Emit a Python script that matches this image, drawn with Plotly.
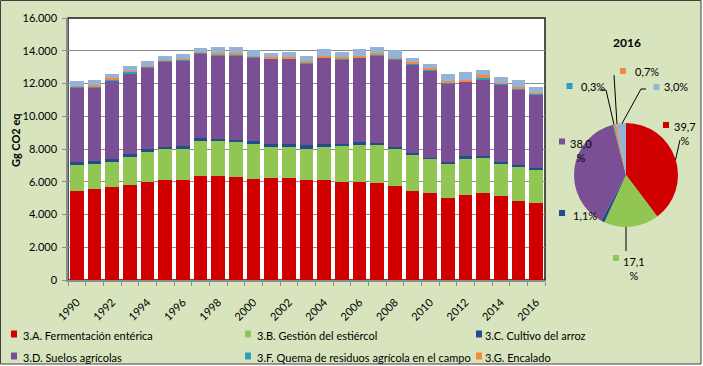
import plotly.graph_objects as go

# ---------------- data ----------------
years = [str(y) for y in range(1990, 2017)]
year_tick_text = [y if int(y) % 2 == 0 else "" for y in years]

names = [
    "3.A. Fermentación entérica",
    "3.B. Gestión del estiércol",
    "3.C. Cultivo del arroz",
    "3.D. Suelos agrícolas",
    "3.F. Quema de residuos agrícola en el campo",
    "3.G. Encalado",
    "3.H. Aplicación de urea",
]
colors = ["#D00000", "#92C653", "#1F4E8F", "#7A4F95", "#2AA0BC", "#F58A3C", "#95B3D7"]

fermentacion = [5460, 5570, 5650, 5830, 6010, 6120, 6120, 6380, 6380, 6320, 6190, 6200, 6200, 6120,
                6120, 6010, 6010, 5950, 5770, 5460, 5300, 5030, 5210, 5300, 5100, 4830, 4690]
estiercol = [1570, 1525, 1585, 1710, 1800, 1870, 1870, 2080, 2080, 2140, 2170, 1910, 1910, 1890,
             1990, 2200, 2290, 2350, 2240, 2190, 2100, 2065, 2190, 2180, 2000, 2100, 2020]
arroz = [160, 180, 160, 180, 180, 150, 220, 240, 150, 110, 100, 200, 200, 220,
         200, 110, 100, 90, 100, 100, 70, 100, 160, 100, 90, 90, 130]
suelos = [4570, 4510, 4780, 4920, 5000, 5190, 5180, 5140, 5110, 5150, 5100, 5190, 5190, 5000,
          5250, 5170, 5160, 5330, 5360, 5400, 5310, 4810, 4550, 4690, 4750, 4600, 4490]
quema = [40, 60, 50, 70, 60, 60, 60, 50, 50, 50, 60, 50, 50, 50,
         50, 40, 50, 50, 40, 30, 30, 30, 40, 40, 50, 50, 35]
encalado = [70, 40, 90, 40, 40, 60, 40, 60, 70, 70, 50, 50, 60, 90,
            60, 90, 50, 80, 70, 130, 140, 90, 80, 180, 60, 100, 85]
urea = [260, 350, 290, 290, 310, 200, 340, 240, 360, 360, 360, 240, 320, 280,
        440, 300, 450, 350, 440, 250, 260, 450, 450, 350, 360, 460, 355]

series = [fermentacion, estiercol, arroz, suelos, quema, encalado, urea]
pie_year = "2016"

# ---------------- layout helpers ----------------
W, H = 703, 366
FONT = "Lato, 'Open Sans', sans-serif"


def fx(px):
    return px / W


def fy(py):
    return 1 - py / H


fig = go.Figure()

for name, vals, col in zip(names, series, colors):
    fig.add_trace(go.Bar(
        x=years, y=vals, name=name, marker=dict(color=col, line=dict(width=0)),
        showlegend=False, xaxis="x", yaxis="y",
    ))

pie_vals = [s[years.index(pie_year)] for s in series]
fig.add_trace(go.Pie(
    labels=names, values=pie_vals, marker=dict(colors=colors, line=dict(width=0)),
    sort=False, direction="clockwise", rotation=0, textinfo="none", showlegend=False,
    domain=dict(x=[fx(574), fx(678)], y=[fy(227), fy(123)]),
))

shapes = [
    dict(type="rect", xref="paper", yref="paper", x0=fx(0.5), x1=fx(701), y0=fy(364), y1=fy(0.5),
         fillcolor="#D7E4BD", line=dict(color="#404040", width=1), layer="below"),
    dict(type="rect", xref="x domain", yref="y domain", x0=0, x1=1, y0=0, y1=1,
         fillcolor="white", line=dict(color="#1a1a1a", width=1.5), layer="below"),
]
annotations = []

# bottom legend (built from series names / colours)
legend_slots = [(11, 21, 334), (245, 255, 334), (476, 483, 334),
                (11, 21, 356), (245, 255, 356), (476, 483, 356)]
for i, (sq_x, tx_x, cy) in enumerate(legend_slots):
    shapes.append(dict(type="rect", xref="paper", yref="paper",
                       x0=fx(sq_x), x1=fx(sq_x + 6), y0=fy(cy + 3.5), y1=fy(cy - 3.5),
                       fillcolor=colors[i], line=dict(width=0)))
    annotations.append(dict(xref="paper", yref="paper", x=fx(tx_x), y=fy(cy + 1), text=names[i],
                            showarrow=False, xanchor="left", yanchor="middle",
                            font=dict(family=FONT, size=11, color="#000")))

# y-axis title
annotations.append(dict(xref="paper", yref="paper", x=fx(15), y=fy(140), text="<b>Gg CO2 eq</b>",
                        textangle=-90, showarrow=False, xanchor="center", yanchor="middle",
                        font=dict(family=FONT, size=11, color="#000")))
# pie title
annotations.append(dict(xref="paper", yref="paper", x=fx(627), y=fy(42), text="<b>%s</b>" % pie_year,
                        showarrow=False, xanchor="center", yanchor="middle",
                        font=dict(family=FONT, size=12, color="#000")))

# pie labels: (square centre x, y, text x, text y, anchor, wrap)
total = sum(pie_vals)
pct = [("%.1f" % (v / total * 100)).replace(".", ",") for v in pie_vals]
label_pos = {
    0: (666, 125, 685, 133, "center", True),
    1: (616, 258, 634, 268, "center", True),
    2: (562, 213, 571, 215, "left", False),
    3: (562, 141.5, 581, 150, "center", True),
    4: (569.5, 86, 579, 87, "left", False),
    5: (623, 71, 633, 71, "left", False),
    6: (656.5, 87, 662, 87, "left", False),
}
for i, (sx, sy, tx, ty, anc, wrap) in label_pos.items():
    shapes.append(dict(type="rect", xref="paper", yref="paper",
                       x0=fx(sx - 3), x1=fx(sx + 3), y0=fy(sy + 3), y1=fy(sy - 3),
                       fillcolor=colors[i], line=dict(width=0)))
    txt = pct[i] + ("<br>%" if wrap else "%")
    annotations.append(dict(xref="paper", yref="paper", x=fx(tx), y=fy(ty), text=txt,
                            showarrow=False, xanchor=anc, yanchor="middle", align="center",
                            font=dict(family=FONT, size=11, color="#000")))

# leader lines
leaders = [
    [(680, 140), (675.5, 160)],
    [(626, 227), (626, 251)],
    [(600, 90), (606, 90), (614, 124.5)],
    [(614, 75), (617, 124)],
    [(646, 89), (641, 89), (622, 123.5)],
]
for pts in leaders:
    path = "M " + " L ".join("%f,%f" % (fx(a), fy(b)) for a, b in pts)
    shapes.append(dict(type="path", xref="paper", yref="paper", path=path,
                       line=dict(color="#000", width=1)))

fig.update_layout(
    width=W, height=H,
    margin=dict(l=0, r=0, t=0, b=0, pad=0, autoexpand=False),
    paper_bgcolor="white",
    plot_bgcolor="rgba(0,0,0,0)",
    separators=",.",
    barmode="stack",
    bargap=0.22,
    showlegend=False,
    font=dict(family=FONT, size=11, color="#000"),
    xaxis=dict(
        domain=[fx(68), fx(545)], type="category", tickmode="array", automargin=False,
        tickvals=years, ticktext=year_tick_text, tickangle=-45, tickson="boundaries",
        showline=True, linecolor="#8c8c8c", linewidth=1.5, ticks="outside", ticklen=4,
        tickcolor="#8c8c8c", showgrid=False, tickfont=dict(family=FONT, size=11, color="#000"),
        ticklabelstandoff=10,
    ),
    yaxis=dict(
        domain=[fy(280), fy(18)], range=[0, 16000], dtick=2000, tickformat=",.0f", automargin=False,
        showline=True, linecolor="#8c8c8c", linewidth=1.5, ticks="outside", ticklen=4,
        tickcolor="#8c8c8c", showgrid=True, gridcolor="#8c8c8c", gridwidth=1, zeroline=False,
        tickfont=dict(family=FONT, size=11, color="#000"), ticklabelstandoff=3,
    ),
    shapes=shapes,
    annotations=annotations,
)

fig.write_html(
    "out.html",
    config={"displayModeBar": False},
    post_script="document.body.style.margin='0';document.body.style.overflow='hidden';",
)
